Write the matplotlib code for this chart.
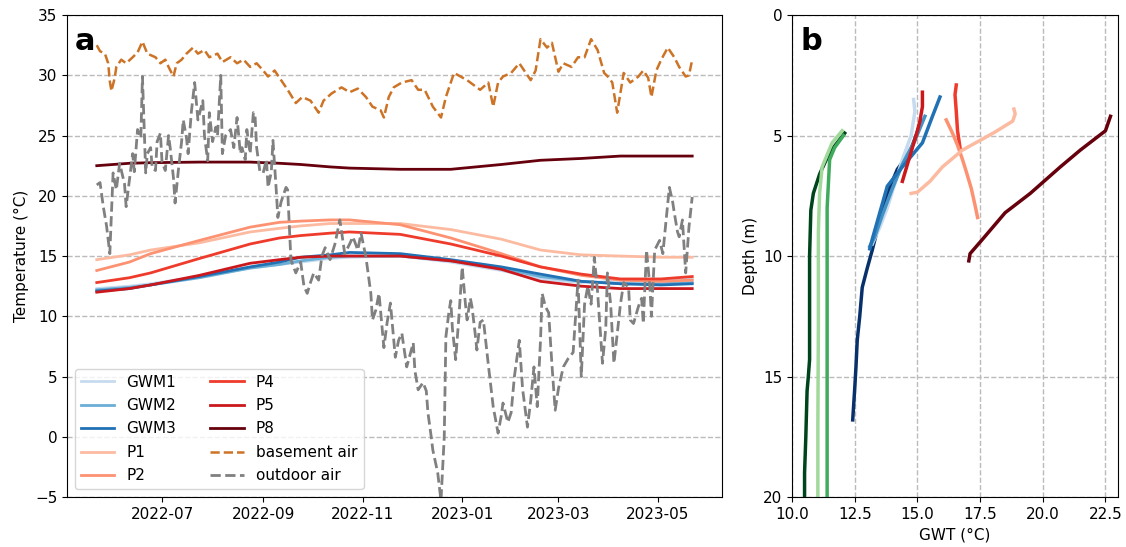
import pandas as pd
import matplotlib
matplotlib.use("Agg")
import matplotlib.pyplot as plt
import matplotlib.dates as mdates

# ---- panel a: time series (day offsets from first record) ----
START = pd.Timestamp("2022-05-22")

gw_days = [0, 20, 33, 63, 94, 112, 125, 143, 155, 186, 217, 248, 272, 297, 321, 346, 365]
gwm1 = [12.3, 12.5, 12.7, 13.3, 14.0, 14.3, 14.5, 14.8, 14.9, 15.0, 14.5, 13.8, 13.1, 12.8, 12.9, 13.0, 13.1]
gwm2 = [12.2, 12.4, 12.6, 13.2, 14.0, 14.3, 14.6, 14.9, 15.0, 15.0, 14.6, 14.0, 13.3, 12.9, 12.7, 12.7, 12.8]
gwm3 = [12.1, 12.3, 12.6, 13.3, 14.1, 14.5, 14.9, 15.1, 15.3, 15.2, 14.7, 14.1, 13.5, 12.9, 12.7, 12.6, 12.7]
p1 = [14.7, 15.1, 15.5, 16.1, 17.0, 17.3, 17.5, 17.7, 17.7, 17.7, 17.2, 16.4, 15.5, 15.1, 15.0, 14.9, 14.9]
p2 = [13.8, 14.5, 15.2, 16.3, 17.4, 17.8, 17.9, 18.0, 18.0, 17.6, 16.5, 15.2, 14.1, 13.4, 13.0, 12.9, 13.0]
p4 = [12.8, 13.2, 13.6, 14.8, 16.0, 16.5, 16.7, 16.9, 17.0, 16.8, 16.0, 15.0, 14.1, 13.5, 13.1, 13.1, 13.3]
p5 = [12.0, 12.3, 12.6, 13.4, 14.4, 14.7, 14.9, 15.0, 15.0, 15.0, 14.6, 13.9, 12.9, 12.5, 12.3, 12.3, 12.3]
p8 = [22.5, 22.7, 22.75, 22.8, 22.8, 22.7, 22.6, 22.4, 22.3, 22.2, 22.2, 22.6, 22.95, 23.1, 23.3, 23.3, 23.3]

base_days = [0, 2, 5, 7, 8, 9, 11, 12, 15, 18, 22, 25, 28, 31, 36, 39, 42, 44, 47, 49,
             52, 55, 59, 62, 66, 69, 74, 77, 82, 86, 90, 94, 98, 102, 105, 109, 114, 117, 122, 126,
             131, 136, 139, 144, 150, 155, 160, 165, 169, 174, 176, 179, 182, 187, 193, 197, 201, 206, 211, 214,
             219, 223, 227, 231, 235, 240, 243, 246, 249, 254, 259, 263, 266, 269, 272, 276, 279, 283, 286, 291,
             295, 299, 303, 307, 311, 314, 316, 319, 323, 327, 332, 335, 338, 340, 343, 346, 350, 354, 357, 361,
             363, 365]
basement = [32.5, 32.0, 31.8, 31.0, 29.5, 28.7, 29.8, 30.7, 31.3, 31.0, 31.5, 31.9, 32.8, 31.8, 31.5, 31.0, 31.3, 30.7, 29.9, 31.0,
            31.3, 31.8, 32.3, 31.8, 32.1, 31.5, 31.8, 31.1, 31.5, 31.0, 31.3, 30.7, 31.0, 30.4, 29.9, 30.4, 29.4, 28.8, 27.7, 28.2,
            27.9, 26.9, 27.9, 28.5, 29.0, 28.6, 28.9, 28.2, 27.4, 27.1, 26.5, 28.2, 29.0, 29.4, 29.6, 28.8, 28.8, 27.4, 26.5, 28.2,
            30.2, 29.9, 29.6, 29.2, 28.8, 29.4, 27.4, 29.4, 29.9, 30.2, 31.0, 30.2, 29.6, 30.4, 33.0, 32.3, 32.7, 30.3, 31.0, 30.7,
            31.5, 31.5, 33.0, 32.1, 30.2, 29.8, 29.4, 26.9, 30.2, 29.4, 29.9, 30.4, 29.8, 28.2, 30.4, 31.3, 32.3, 31.5, 30.7, 29.9,
            30.0, 31.3]

out_days = [0, 2, 4, 6, 8, 10, 12, 14, 17, 18, 22, 23, 25, 27, 28, 30, 31, 33, 34, 36,
            37, 39, 40, 42, 44, 45, 47, 48, 50, 52, 53, 55, 56, 58, 60, 62, 65, 66, 68, 69,
            71, 73, 74, 76, 77, 79, 82, 84, 86, 88, 89, 91, 92, 94, 96, 97, 98, 100, 102, 104,
            105, 107, 108, 110, 111, 113, 116, 117, 119, 122, 125, 127, 129, 131, 133, 136, 138, 140, 143, 146,
            149, 152, 155, 157, 160, 162, 165, 168, 169, 171, 173, 176, 178, 180, 183, 185, 187, 190, 194, 195,
            197, 200, 202, 203, 205, 206, 209, 211, 213, 214, 216, 217, 218, 220, 222, 224, 226, 227, 229, 230,
            232, 233, 235, 237, 240, 243, 246, 248, 249, 252, 254, 256, 259, 261, 264, 266, 268, 270, 272, 273,
            275, 277, 279, 281, 283, 286, 289, 292, 295, 297, 299, 301, 303, 305, 307, 310, 312, 313, 315, 317,
            319, 321, 323, 326, 327, 329, 332, 334, 335, 337, 339, 340, 342, 345, 347, 349, 351, 353, 354, 356,
            357, 359, 361, 363, 365]
outdoor = [20.9, 21.1, 19.1, 17.5, 15.2, 21.9, 20.5, 22.7, 21.0, 19.1, 23.5, 22.0, 25.5, 24.8, 29.9, 21.9, 23.5, 24.0, 22.3, 22.1,
           24.5, 25.2, 22.8, 22.1, 25.0, 24.0, 21.5, 19.4, 22.1, 24.5, 26.3, 24.8, 23.5, 27.0, 29.4, 26.3, 27.9, 25.0, 22.9, 26.9,
           24.5, 25.7, 25.0, 30.0, 23.5, 25.0, 25.5, 24.0, 26.5, 23.5, 24.0, 23.0, 25.5, 23.5, 26.9, 26.7, 24.0, 22.0, 21.9, 23.0,
           20.7, 22.0, 24.6, 20.5, 18.2, 19.5, 20.7, 20.5, 14.7, 13.6, 14.5, 12.5, 11.9, 12.8, 13.6, 13.0, 15.0, 15.7, 14.7, 16.0,
           18.0, 15.2, 16.0, 16.6, 15.5, 16.9, 14.9, 11.9, 9.7, 10.5, 11.9, 7.4, 9.5, 11.1, 6.6, 8.0, 8.6, 5.8, 7.8, 5.5,
           3.9, 4.5, 3.8, 2.0, 0.0, -1.1, -3.0, -5.3, 0.0, 8.3, 10.5, 11.3, 9.0, 6.4, 10.0, 14.1, 11.0, 9.7, 11.5, 10.8,
           8.5, 7.2, 9.5, 9.7, 6.0, 2.5, 0.3, 1.8, 2.8, 1.2, 2.0, 5.0, 8.0, 4.0, 0.8, 3.0, 5.8, 2.5, 8.0, 11.9,
           10.8, 10.3, 6.0, 2.2, 4.0, 5.8, 6.5, 7.0, 13.0, 5.0, 11.0, 12.5, 11.0, 14.9, 12.0, 6.1, 9.0, 13.6, 11.0, 6.1,
           8.5, 11.0, 12.8, 12.4, 9.7, 9.4, 10.8, 11.5, 9.4, 15.5, 12.5, 10.0, 15.5, 16.3, 15.2, 18.0, 20.7, 19.5, 18.6, 17.0,
           16.6, 18.0, 13.6, 17.4, 19.9]

# ---- panel b: temperature-depth profiles (GWT degC, depth m) ----
g_dark_t = [12.1, 11.8, 11.5, 11.1, 10.85, 10.75, 10.7, 10.7, 10.65, 10.6, 10.55, 10.5, 10.5]
g_dark_d = [4.9, 5.3, 5.7, 6.6, 7.4, 8.1, 10.0, 14.3, 15.0, 15.6, 17.5, 19.0, 20.0]
g_light_t = [12.0, 11.6, 11.2, 11.1, 11.05, 11.05, 11.03, 11.03]
g_light_d = [4.8, 5.3, 6.3, 7.4, 9.0, 13.0, 17.0, 20.0]
g_mid_t = [12.05, 11.7, 11.5, 11.45, 11.4, 11.4, 11.4, 11.4]
g_mid_d = [5.0, 5.5, 6.0, 7.0, 8.0, 12.0, 16.0, 20.0]

b_navy_t = [15.15, 14.7, 14.2, 13.8, 13.5, 13.2, 13.0, 12.8, 12.7, 12.6, 12.55, 12.5, 12.42]
b_navy_d = [4.4, 5.7, 6.4, 7.4, 8.5, 9.75, 10.5, 11.3, 12.5, 13.5, 14.6, 15.5, 16.8]
b_gwm1_t = [14.85, 14.9, 14.75, 14.4, 14.1, 13.8, 13.5, 13.2]
b_gwm1_d = [3.5, 4.0, 5.0, 6.0, 7.0, 8.0, 8.8, 9.5]
b_gwm2_t = [15.3, 14.9, 14.4, 14.0, 13.6, 13.3, 13.1]
b_gwm2_d = [4.2, 5.2, 6.2, 7.2, 8.3, 9.2, 9.6]
b_gwm3_t = [15.9, 15.6, 15.2, 14.4, 13.8, 13.5, 13.2, 13.1]
b_gwm3_d = [3.4, 4.2, 5.3, 6.3, 7.1, 8.2, 9.3, 9.7]

r_p5_t = [15.2, 15.2, 15.1, 14.95, 14.8, 14.6, 14.4]
r_p5_d = [3.2, 3.8, 4.4, 5.0, 5.5, 6.2, 6.9]
r_p4_t = [16.55, 16.5, 16.55, 16.6, 16.7]
r_p4_d = [2.9, 3.3, 4.0, 4.8, 5.5]
r_p2_t = [16.15, 16.4, 16.6, 16.8, 16.95, 17.15, 17.3, 17.4]
r_p2_d = [4.35, 4.9, 5.4, 6.0, 6.5, 7.2, 7.9, 8.4]
r_p1_t = [14.75, 15.0, 15.5, 16.0, 16.8, 17.5, 18.1, 18.8, 18.9, 18.85]
r_p1_d = [7.4, 7.35, 6.9, 6.3, 5.6, 5.2, 4.85, 4.4, 4.1, 3.9]
r_p8_t = [17.05, 17.1, 17.6, 18.5, 19.5, 20.7, 21.5, 22.5, 22.6, 22.7]
r_p8_d = [10.2, 9.9, 9.3, 8.2, 7.4, 6.3, 5.6, 4.8, 4.5, 4.2]

C_GWM = ["#c6dbef", "#6baed6", "#2171b5"]
C_P = ["#fcbba1", "#fc9272", "#ef3b2c", "#cb181d", "#67000d"]
C_BASE = "#cc7326"
C_OUT = "#808080"


def to_dates(days):
    return START + pd.to_timedelta(days, unit="D")


fig = plt.figure(figsize=(11.26, 5.47), dpi=100)
ax1 = fig.add_axes([0.0595, 0.0914, 0.5817, 0.881])
ax2 = fig.add_axes([0.7034, 0.0914, 0.2895, 0.881])

gw_t = to_dates(gw_days)
for name, vals, col in zip(["GWM1", "GWM2", "GWM3"], [gwm1, gwm2, gwm3], C_GWM):
    ax1.plot(gw_t, vals, color=col, lw=2, label=name)
for name, vals, col in zip(["P1", "P2", "P4", "P5", "P8"], [p1, p2, p4, p5, p8], C_P):
    ax1.plot(gw_t, vals, color=col, lw=2, label=name)
ax1.plot(to_dates(base_days), basement, color=C_BASE, lw=1.8, ls="--", label="basement air")
ax1.plot(to_dates(out_days), outdoor, color=C_OUT, lw=2, ls="--", label="outdoor air")

ax1.set_ylim(-5, 35)
ax1.set_ylabel("Temperature (°C)", fontsize=11)
ax1.grid(axis="y", ls="--", color="#bbbbbb", lw=1)
ax1.tick_params(labelsize=11)
ax1.xaxis.set_major_locator(mdates.MonthLocator(bymonth=[1, 3, 5, 7, 9, 11]))
ax1.xaxis.set_major_formatter(mdates.DateFormatter("%Y-%m"))
ax1.legend(ncol=2, loc="lower left", fontsize=11, handlelength=2.2, handletextpad=0.8,
           columnspacing=2.2, labelspacing=0.55)
ax1.text(0.012, 0.975, "a", transform=ax1.transAxes, fontsize=22, fontweight="bold", va="top")

# panel b profiles
for t, d, col in [(g_dark_t, g_dark_d, "#00441b"), (g_light_t, g_light_d, "#a1d99b"), (g_mid_t, g_mid_d, "#41ab5d")]:
    ax2.plot(t, d, color=col, lw=2.5)
for t, d, col in [(b_navy_t, b_navy_d, "#08306b"), (b_gwm1_t, b_gwm1_d, "#c6dbef"),
                  (b_gwm2_t, b_gwm2_d, "#4292c6"), (b_gwm3_t, b_gwm3_d, "#2171b5")]:
    ax2.plot(t, d, color=col, lw=2.5)
for t, d, col in [(r_p5_t, r_p5_d, "#cb181d"), (r_p4_t, r_p4_d, "#ef3b2c"), (r_p2_t, r_p2_d, "#fc9272"),
                  (r_p1_t, r_p1_d, "#fcbba1"), (r_p8_t, r_p8_d, "#67000d")]:
    ax2.plot(t, d, color=col, lw=2.5)

ax2.set_xlim(10, 23)
ax2.set_ylim(20, 0)
ax2.set_xticks([10.0, 12.5, 15.0, 17.5, 20.0, 22.5])
ax2.set_yticks([0, 5, 10, 15, 20])
ax2.set_xlabel("GWT (°C)", fontsize=11)
ax2.set_ylabel("Depth (m)", fontsize=11)
ax2.grid(ls="--", color="#bbbbbb", lw=1)
ax2.tick_params(labelsize=11)
ax2.text(0.025, 0.975, "b", transform=ax2.transAxes, fontsize=22, fontweight="bold", va="top")

fig.savefig("out.png", dpi=100)
